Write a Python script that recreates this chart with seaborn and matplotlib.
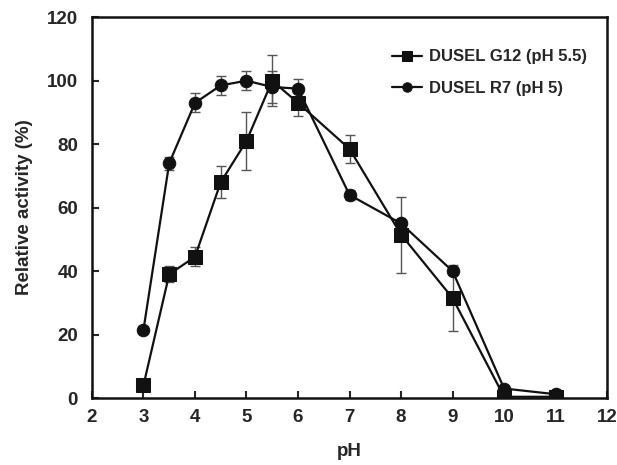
import numpy as np
import pandas as pd
import matplotlib
matplotlib.use('Agg')
import matplotlib.pyplot as plt
import seaborn as sns

# Datos
ph = [3, 3.5, 4, 4.5, 5, 5.5, 6, 7, 8, 9, 10, 11]
g12 = [4, 39, 44.5, 68, 81, 100, 93, 78.5, 51.5, 31.5, 0.4, 0.4]
g12_err = [1, 2.5, 3, 5, 9, 8, 4, 4.5, 12, 10.5, 0.5, 0.5]
r7 = [21.5, 74, 93, 98.5, 100, 98, 97.5, 64, 55, 40, 3, 1.2]
r7_err = [0.5, 2, 3, 3, 3, 5, 3, 1.5, 1, 1, 0.5, 0.5]

label_g12 = 'DUSEL G12 (pH 5.5)'
label_r7 = 'DUSEL R7 (pH 5)'
xticks = list(range(2, 13))
yticks = list(range(0, 121, 20))

sns.set_style('ticks')
plt.rcParams['font.family'] = ['Liberation Sans', 'DejaVu Sans']
plt.rcParams['font.weight'] = 'bold'

fig = plt.figure(figsize=(6.17, 4.65), dpi=100)
ax = fig.add_axes([0.149, 0.144, 0.835, 0.819])

df_g12 = pd.DataFrame({'pH': ph, 'act': g12})
df_r7 = pd.DataFrame({'pH': ph, 'act': r7})

# Barras de error
ax.errorbar(ph, g12, yerr=g12_err, fmt='none', ecolor='#555555', elinewidth=1, capsize=3.5, capthick=1, zorder=1)
ax.errorbar(ph, r7, yerr=r7_err, fmt='none', ecolor='#555555', elinewidth=1, capsize=3.5, capthick=1, zorder=1)

sns.lineplot(data=df_g12, x='pH', y='act', marker='s', markersize=9.5, color='#111111',
             linewidth=1.6, markeredgecolor='#111111', label=label_g12, ax=ax, zorder=2)
sns.lineplot(data=df_r7, x='pH', y='act', marker='o', markersize=9, color='#111111',
             linewidth=1.6, markeredgecolor='#111111', label=label_r7, ax=ax, zorder=2)

ax.set_xlim(2, 12)
ax.set_ylim(0, 120)
ax.set_xticks(xticks)
ax.set_xticklabels([str(v) for v in xticks], fontsize=13.5, fontweight='bold')
ax.set_yticks(yticks)
ax.set_yticklabels([str(v) for v in yticks], fontsize=13.5, fontweight='bold')
ax.tick_params(direction='in', length=5, width=1.5)
ax.tick_params(axis='x', pad=8)
ax.tick_params(axis='y', pad=10)
for sp in ax.spines.values():
    sp.set_linewidth(1.8)
    sp.set_color('#111111')

ax.set_xlabel('pH', fontsize=13.5, fontweight='bold', labelpad=12)
ax.set_ylabel('Relative activity (%)', fontsize=13.5, fontweight='bold', labelpad=10)

leg = ax.legend(loc='upper right', bbox_to_anchor=(0.99, 0.955), frameon=False,
                fontsize=12, handlelength=1.8, handletextpad=0.4, labelspacing=1.0,
                markerscale=0.75)
for t in leg.get_texts():
    t.set_fontweight('bold')

fig.savefig('out.png', dpi=100)
